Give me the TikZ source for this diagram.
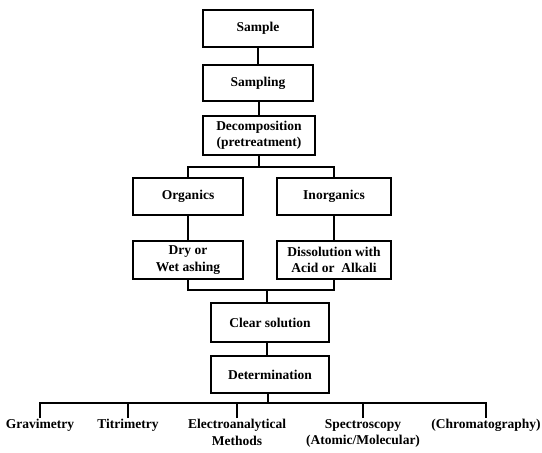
\documentclass[tikz,border=0pt]{standalone}
\usepackage{fontspec}
\setmainfont{Liberation Serif}
\begin{document}
\begin{tikzpicture}[x=1pt,y=-1pt,
  line width=1.1pt,
  txt/.style={font=\fontsize{13.5}{16.5}\selectfont\bfseries},
  box/.style={txt, draw, rectangle, align=center, inner sep=0pt},
  leaf/.style={txt, anchor=north, align=center, inner sep=1pt}]
\useasboundingbox (0,0) rectangle (542,453);
% upper column
\node[box, minimum width=110pt, minimum height=37pt] (sample) at (258,28.5) {Sample};
\node[box, minimum width=110pt, minimum height=36pt] (sampling) at (258,83) {Sampling};
\node[box, minimum width=112pt, minimum height=39pt] (decomp) at (259,135.5) {Decomposition\\(pretreatment)};
% branches
\node[box, minimum width=110pt, minimum height=37pt] (org) at (188,196.5) {Organics};
\node[box, minimum width=114pt, minimum height=37pt] (inorg) at (334,196.5) {Inorganics};
\node[box, minimum width=110pt, minimum height=38pt] (dry) at (188,260) {Dry or\\Wet ashing};
\node[box, minimum width=114pt, minimum height=38pt] (diss) at (334,260) {Dissolution with\\Acid or\ \ Alkali};
% lower column
\node[box, minimum width=118pt, minimum height=39pt] (clear) at (270,322.5) {Clear solution};
\node[box, minimum width=118pt, minimum height=37pt] (det) at (270,374.5) {Determination};
% leaves
\node[leaf] (grav) at (40,418) {Gravimetry};
\node[leaf] (titr) at (128,418) {Titrimetry};
\node[leaf] (elec) at (237,418) {Electroanalytical\\Methods};
\node[leaf] (spec) at (363,418) {Spectroscopy\\(Atomic/Molecular)};
\node[leaf] (chrom) at (486,418) {(Chromatography)};
% coordinates
\coordinate (b1) at (259,167);
\coordinate (j1) at (267,290);
\coordinate (b2) at (268,403);
% connectors
\draw (sample) -- (sampling);
\draw (sampling.south -| decomp) -- (decomp.north);
\draw (decomp.south) -- (b1);
\draw (org.north) |- (b1) -| (inorg.north);
\draw (org) -- (dry);
\draw (inorg) -- (diss);
\draw (dry.south) |- (j1) -| (diss.south);
\draw (j1) -- (j1 |- clear.north);
\draw (clear.south -| j1) -- (det.north -| j1);
\draw (det.south -| b2) -- (b2);
\draw (grav.north) |- (b2) -| (chrom.north);
\draw (titr.north) -- (titr.north |- b2);
\draw (elec.north) -- (elec.north |- b2);
\draw (spec.north) -- (spec.north |- b2);
\end{tikzpicture}
\end{document}
